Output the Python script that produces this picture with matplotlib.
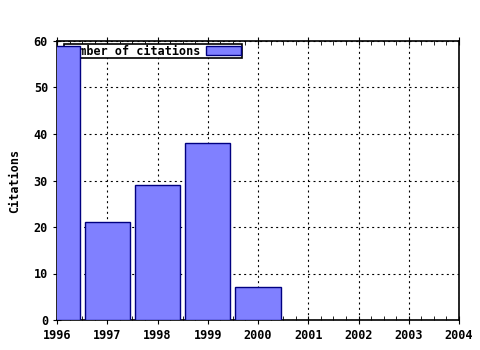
import matplotlib
matplotlib.use("Agg")
import matplotlib.pyplot as plt
from matplotlib.ticker import MultipleLocator

years = [1996, 1997, 1998, 1999, 2000]
citations = [59, 21, 29, 38, 7]
xticks = [1996, 1997, 1998, 1999, 2000, 2001, 2002, 2003, 2004]
yticks = [0, 10, 20, 30, 40, 50, 60]

plt.rcParams['font.family'] = ['DejaVu Sans Mono']
plt.rcParams['font.weight'] = 'bold'

fig = plt.figure(figsize=(4.8, 3.5), dpi=100)
ax = fig.add_axes([57/480, 1-320/350, (459-57)/480, (320-41)/350])

bars = ax.bar(years, citations, width=0.9, color='#8080ff', edgecolor='#000080',
              linewidth=1, label='Number of citations', zorder=3)
ax.set_xlim(1996, 2004)
ax.set_ylim(0, 60)
ax.set_xticks(xticks)
ax.set_yticks(yticks)
ax.xaxis.set_minor_locator(MultipleLocator(0.25))
ax.grid(True, which='major', linestyle=(0, (1.8, 3)), color='black', linewidth=0.8, zorder=0)
ax.tick_params(axis='both', which='major', direction='inout', length=6, labelsize=8.5,
               top=True, right=False)
ax.tick_params(axis='x', which='minor', direction='in', length=3, top=True)
ax.set_ylabel('Citations', fontsize=8.5, fontweight='bold', labelpad=9)
for s in ax.spines.values():
    s.set_linewidth(1.2)

leg = ax.legend(loc='upper left', bbox_to_anchor=(7/402, 1-3/279), markerfirst=False,
                frameon=True, fancybox=False, edgecolor='black', framealpha=1,
                fontsize=8.5, borderpad=0.05, handlelength=3.0, handleheight=0.8,
                borderaxespad=0, handletextpad=0.5)
leg.get_frame().set_linewidth(1.2)
leg.set_zorder(2)
for t in leg.get_texts():
    t.set_fontweight('bold')

fig.savefig('out.png', dpi=100)
